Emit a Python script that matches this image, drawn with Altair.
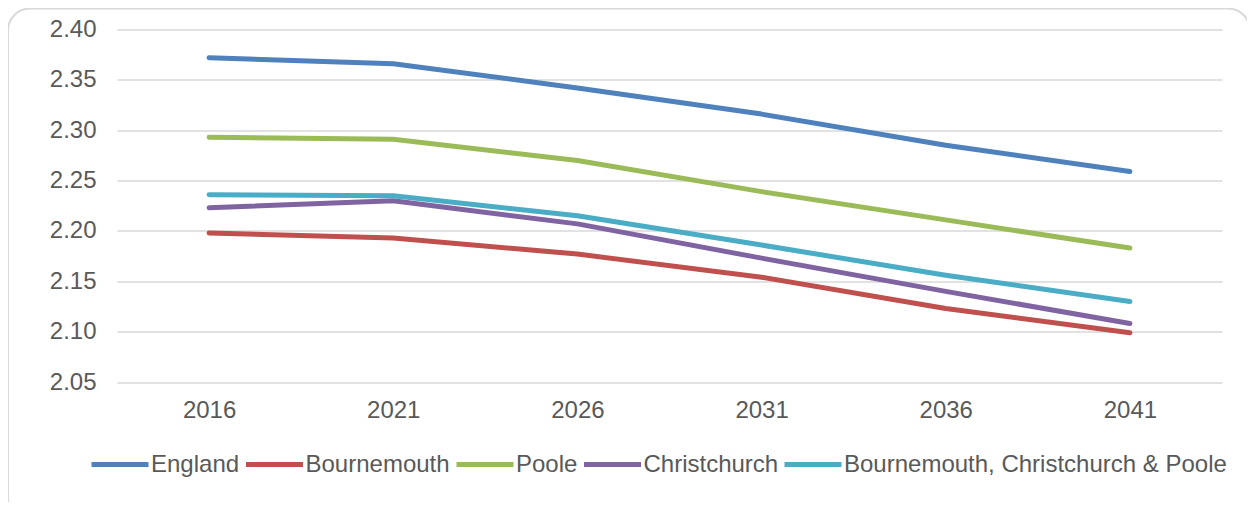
import altair as alt
import pandas as pd

years = ["2016", "2021", "2026", "2031", "2036", "2041"]
series_names = ["England", "Bournemouth", "Poole", "Christchurch",
                "Bournemouth, Christchurch & Poole"]
england = [2.372, 2.366, 2.342, 2.316, 2.285, 2.259]
bournemouth = [2.198, 2.193, 2.177, 2.154, 2.123, 2.099]
poole = [2.293, 2.291, 2.270, 2.239, 2.211, 2.183]
christchurch = [2.223, 2.230, 2.207, 2.173, 2.140, 2.108]
bcp = [2.236, 2.235, 2.215, 2.186, 2.156, 2.130]
colors = ["#4F81BD", "#C0504D", "#9BBB59", "#8064A2", "#4BACC6"]

rows = []
for name, vals in zip(series_names, [england, bournemouth, poole, christchurch, bcp]):
    for y, v in zip(years, vals):
        rows.append({"Year": y, "Value": v, "Series": name})
df = pd.DataFrame(rows)

FONT = "Liberation Sans"
GREY = "#595959"
FS = 24

lines = alt.Chart(df).mark_line(strokeWidth=5, strokeCap="round", strokeJoin="round").encode(
    x=alt.X("Year:O", sort=years, title=None,
            scale=alt.Scale(type="point", padding=0.5),
            axis=alt.Axis(labelAngle=0, domain=False, ticks=False, grid=False,
                          labelPadding=16, labelFontSize=FS, labelColor=GREY,
                          labelFont=FONT)),
    y=alt.Y("Value:Q", title=None,
            scale=alt.Scale(domain=[2.05, 2.40], nice=False, zero=False),
            axis=alt.Axis(values=[2.05, 2.10, 2.15, 2.20, 2.25, 2.30, 2.35, 2.40],
                          format=".2f", domain=False, ticks=False, grid=True,
                          gridColor="#d9d9d9", gridWidth=1.5,
                          labelPadding=21, labelFontSize=FS, labelColor=GREY,
                          labelFont=FONT)),
    color=alt.Color("Series:N", sort=series_names,
                    scale=alt.Scale(domain=series_names, range=colors),
                    legend=alt.Legend(title=None, orient="none", direction="horizontal",
                                      legendX=-28, legendY=404,
                                      symbolType="stroke", symbolSize=3249,
                                      symbolStrokeWidth=5, labelOffset=0,
                                      columnPadding=-4.5, labelFontSize=FS,
                                      labelColor=GREY, labelFont=FONT,
                                      labelLimit=600)),
    detail="Series:N",
)

border = alt.Chart(pd.DataFrame({"a": [0]})).mark_rect(
    fill=None, stroke="#d9d9d9", strokeWidth=2, cornerRadius=22
).encode(
    x=alt.value(-109), x2=alt.value(1133),
    y=alt.value(-21), y2=alt.value(490),
)

chart = alt.layer(border, lines).properties(
    width=1105, height=352.5,
    autosize=alt.AutoSizeParams(type="none"),
    padding={"left": 109, "top": 21.5, "right": 25, "bottom": 120},
).configure(background="white").configure_view(stroke=None)

chart.save("out.html", embed_options={"renderer": "svg", "actions": False})
